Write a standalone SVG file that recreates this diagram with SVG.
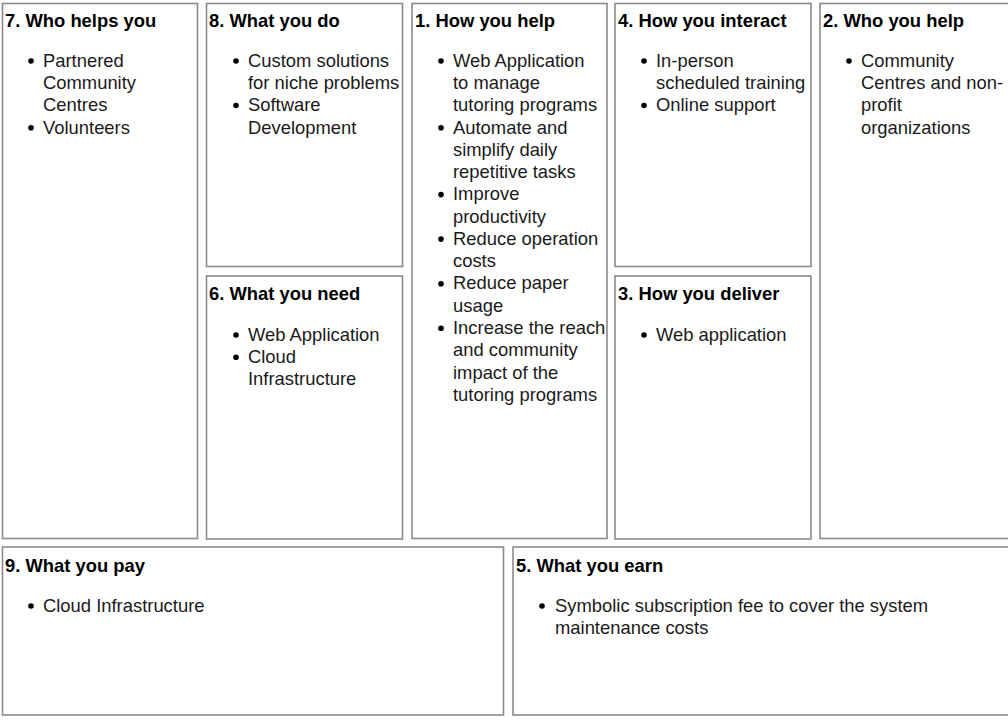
<svg xmlns="http://www.w3.org/2000/svg" width="1008" height="723" viewBox="0 0 1008 723">
<style>
.box{fill:#fff;stroke:#8a8a8a;stroke-width:1.6}
.t{font-family:"Liberation Sans",Arial,sans-serif;font-size:18.4px;font-weight:bold;fill:#000}
.i{font-family:"Liberation Sans",Arial,sans-serif;font-size:18.4px;fill:#1a1a1a}
.b{fill:#000}
</style>
<rect width="1008" height="723" fill="#fff"/>
<g id="node7">
<rect class="box" x="2.5" y="3.5" width="195" height="535"/>
<text class="t" x="5" y="27">7. Who helps you</text>
<circle class="b" cx="31" cy="61" r="2.8"/>
<text class="i" x="43"><tspan x="43" y="66.7">Partnered</tspan><tspan x="43" y="89">Community</tspan><tspan x="43" y="111.2">Centres</tspan></text>
<circle class="b" cx="31" cy="127.8" r="2.8"/>
<text class="i" x="43" y="133.5">Volunteers</text>
</g>
<g id="node8">
<rect class="box" x="206.5" y="3.5" width="196" height="263"/>
<text class="t" x="209" y="27">8. What you do</text>
<circle class="b" cx="236" cy="61" r="2.8"/>
<text class="i"><tspan x="248" y="66.7">Custom solutions</tspan><tspan x="248" y="89">for niche problems</tspan></text>
<circle class="b" cx="236" cy="105.5" r="2.8"/>
<text class="i"><tspan x="248" y="111.2">Software</tspan><tspan x="248" y="133.5">Development</tspan></text>
</g>
<g id="node6">
<rect class="box" x="206.5" y="276" width="196" height="263"/>
<text class="t" x="209" y="300">6. What you need</text>
<circle class="b" cx="236" cy="335" r="2.8"/>
<text class="i" x="248" y="340.7">Web Application</text>
<circle class="b" cx="236" cy="357.3" r="2.8"/>
<text class="i"><tspan x="248" y="363">Cloud</tspan><tspan x="248" y="385.2">Infrastructure</tspan></text>
</g>
<g id="node1">
<rect class="box" x="412" y="3.5" width="195" height="535"/>
<text class="t" x="415" y="27">1. How you help</text>
<circle class="b" cx="441" cy="61" r="2.8"/>
<circle class="b" cx="441" cy="127.8" r="2.8"/>
<circle class="b" cx="441" cy="194.6" r="2.8"/>
<circle class="b" cx="441" cy="239.1" r="2.8"/>
<circle class="b" cx="441" cy="283.7" r="2.8"/>
<circle class="b" cx="441" cy="328.2" r="2.8"/>
<text class="i"><tspan x="453" y="66.7">Web Application</tspan><tspan x="453" y="89">to manage</tspan><tspan x="453" y="111.2">tutoring programs</tspan><tspan x="453" y="133.5">Automate and</tspan><tspan x="453" y="155.8">simplify daily</tspan><tspan x="453" y="178.1">repetitive tasks</tspan><tspan x="453" y="200.3">Improve</tspan><tspan x="453" y="222.6">productivity</tspan><tspan x="453" y="244.9">Reduce operation</tspan><tspan x="453" y="267.1">costs</tspan><tspan x="453" y="289.4">Reduce paper</tspan><tspan x="453" y="311.7">usage</tspan><tspan x="453" y="333.9">Increase the reach</tspan><tspan x="453" y="356.2">and community</tspan><tspan x="453" y="378.5">impact of the</tspan><tspan x="453" y="400.7">tutoring programs</tspan></text>
</g>
<g id="node4">
<rect class="box" x="615" y="3.5" width="196" height="263"/>
<text class="t" x="618" y="27">4. How you interact</text>
<circle class="b" cx="644" cy="61" r="2.8"/>
<text class="i"><tspan x="656" y="66.7">In-person</tspan><tspan x="656" y="89">scheduled training</tspan></text>
<circle class="b" cx="644" cy="105.5" r="2.8"/>
<text class="i" x="656" y="111.2">Online support</text>
</g>
<g id="node3">
<rect class="box" x="615" y="276" width="196" height="263"/>
<text class="t" x="618" y="300">3. How you deliver</text>
<circle class="b" cx="644" cy="335" r="2.8"/>
<text class="i" x="656" y="340.7">Web application</text>
</g>
<g id="node2">
<rect class="box" x="820" y="3.5" width="200" height="535"/>
<text class="t" x="823" y="27">2. Who you help</text>
<circle class="b" cx="849" cy="61" r="2.8"/>
<text class="i"><tspan x="861" y="66.7">Community</tspan><tspan x="861" y="89">Centres and non-</tspan><tspan x="861" y="111.2">profit</tspan><tspan x="861" y="133.5">organizations</tspan></text>
</g>
<g id="node9">
<rect class="box" x="2.5" y="547" width="501" height="168"/>
<text class="t" x="5" y="572">9. What you pay</text>
<circle class="b" cx="31" cy="606" r="2.8"/>
<text class="i" x="43" y="611.7">Cloud Infrastructure</text>
</g>
<g id="node5">
<rect class="box" x="513" y="547" width="500" height="168"/>
<text class="t" x="516" y="572">5. What you earn</text>
<circle class="b" cx="542" cy="606" r="2.8"/>
<text class="i"><tspan x="555" y="611.7">Symbolic subscription fee to cover the system</tspan><tspan x="555" y="634">maintenance costs</tspan></text>
</g>
</svg>
